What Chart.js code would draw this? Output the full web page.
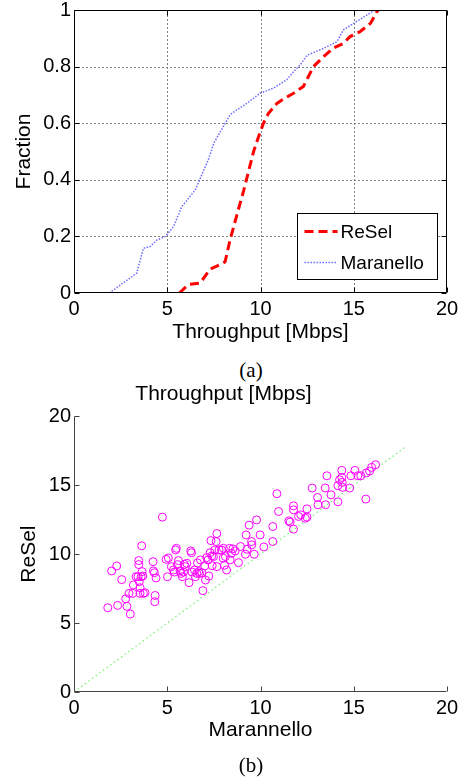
<!DOCTYPE html>
<html>
<head>
<meta charset="utf-8">
<script src="https://cdn.jsdelivr.net/npm/chart.js@4.4.1/dist/chart.umd.min.js"></script>
<style>
  html, body { margin:0; padding:0; background:#fff; width:465px; height:779px; overflow:hidden; position:relative; }
  .wrap { position:absolute; left:0; width:465px; }
  .cap { position:absolute; width:100px; text-align:center; font-family:'Liberation Serif','Times New Roman',serif; font-size:21px; line-height:24px; color:#000; }
</style>
</head>
<body>
<div class="wrap" style="top:-10px;height:355px"><canvas id="cdf" width="465" height="355"></canvas></div>
<div class="cap" style="left:201px;top:358px">(a)</div>
<div class="wrap" style="top:380px;height:399px"><canvas id="sc" width="465" height="399"></canvas></div>
<div class="cap" style="left:201px;top:753px">(b)</div>
<script>
// ---------- data: (a) CDF of throughput ----------
const reselX = [5.65, 6.13, 6.76, 7.3, 7.83, 8.1, 8.37, 8.73, 9.09, 9.36, 9.63, 9.9, 10.16, 10.43, 10.88, 11.3, 11.77, 12.3, 12.57, 12.84, 13.38, 13.9, 14.45, 14.8, 15.35, 15.9, 16.24, 16.33];
const reselY = [0, 0.03, 0.035, 0.084, 0.1, 0.11, 0.188, 0.275, 0.36, 0.43, 0.5, 0.553, 0.6, 0.635, 0.67, 0.688, 0.706, 0.73, 0.765, 0.8, 0.835, 0.865, 0.882, 0.906, 0.924, 0.953, 0.994, 1.0];
const maranelloX = [1.89, 3.36, 3.72, 4.08, 4.44, 4.88, 5.33, 5.78, 6.5, 6.77, 7.2, 7.5, 8.0, 8.37, 8.73, 9.27, 9.98, 10.7, 11.4, 11.77, 12.13, 12.5, 13.4, 14.1, 14.45, 15.0, 15.7, 16.15];
const maranelloY = [0, 0.07, 0.158, 0.164, 0.187, 0.199, 0.234, 0.305, 0.364, 0.405, 0.47, 0.53, 0.588, 0.63, 0.647, 0.67, 0.706, 0.724, 0.753, 0.782, 0.806, 0.84, 0.865, 0.888, 0.93, 0.953, 0.982, 1.0];
const cdfXTicks = [0, 5, 10, 15, 20];
const cdfYTicks = [0, 0.2, 0.4, 0.6, 0.8, 1];

// ---------- data: (b) scatter ReSel vs Marannello ----------
const scatterMarannello = [1.81,2.02,2.29,2.34,2.56,2.77,2.84,2.95,3.02,3.15,3.18,3.33,3.43,3.47,3.47,3.5,3.54,3.54,3.6,3.63,3.65,3.69,3.72,3.81,4.24,4.26,4.31,4.33,4.35,4.4,4.74,4.94,5.06,5.01,5.22,5.33,5.38,5.45,5.49,5.55,5.6,5.69,5.74,5.81,5.87,5.92,5.97,6.05,6.17,6.26,6.3,6.33,6.46,6.51,6.58,6.62,6.69,6.73,6.78,6.85,6.91,7.01,7.05,7.12,7.19,7.23,7.3,7.34,7.39,7.41,7.48,7.55,7.62,7.66,7.66,7.78,7.91,8.0,8.01,8.07,8.12,8.18,8.34,8.37,8.44,8.52,8.64,8.82,8.93,9.19,9.23,9.28,9.39,9.52,9.53,9.66,9.79,9.98,10.18,10.66,10.66,10.88,10.97,11.52,11.59,11.77,11.77,11.77,12.04,12.16,12.4,12.49,12.49,12.77,13.06,13.08,13.47,13.49,13.56,13.78,14.15,14.15,14.24,14.36,14.36,14.38,14.4,14.78,14.85,15.06,15.22,15.38,15.65,15.67,15.85,15.96,16.17];
const scatterResel = [6.11,8.78,9.14,6.28,8.15,6.76,6.21,7.15,5.65,7.15,7.76,8.36,8.36,9.53,9.24,8.0,7.15,7.56,8.36,10.6,8.73,8.41,7.15,7.2,9.45,8.78,8.65,6.55,7.0,8.27,12.68,9.62,9.72,8.36,9.09,8.85,8.7,10.3,10.42,9.24,9.53,8.78,8.6,8.36,8.7,9.26,9.09,9.33,7.93,10.23,10.1,8.7,8.85,8.36,8.6,9.36,8.73,8.6,9.58,8.65,7.35,9.14,8.12,9.75,9.58,8.41,10.1,10.98,9.87,9.16,9.82,10.3,10.91,11.49,9.09,10.3,10.3,9.7,10.42,9.19,9.82,8.85,10.42,9.58,10.06,10.38,10.23,9.38,10.55,9.99,11.39,10.35,12.1,10.91,10.67,9.99,12.48,11.39,10.52,12.0,10.91,14.38,13.09,12.41,12.32,11.81,13.5,13.21,12.73,12.85,12.6,12.68,13.28,14.79,14.11,13.58,14.79,13.58,15.68,14.3,13.79,14.96,15.39,16.07,15.56,15.2,14.84,14.79,15.68,16.07,15.68,15.68,13.99,15.88,16.02,16.29,16.48];
const diagX = [0, 17.8];
const diagY = [0, 17.8];
const scXTicks = [0, 5, 10, 15, 20];
const scYTicks = [0, 5, 10, 15, 20];

// ---------- helpers ----------
const FONT = "'Liberation Sans', Arial, Helvetica, sans-serif";
Chart.defaults.font.family = FONT;
Chart.defaults.color = '#000';
const zip = (xs, ys) => xs.map((x, i) => ({x, y: ys[i]}));
const fixTicks = arr => (scale) => { scale.ticks = arr.map(v => ({value: v})); };
const fmt = v => String(v);

// dotted grid + frame with inward tick marks, placed through the chart's own scales
function makeFrame(xTicks, yTicks, color, box, gridColor) {
  return {
    id: 'frame',
    beforeDatasetsDraw(chart) {
      if (!gridColor) return;
      const {ctx, chartArea: a, scales} = chart;
      ctx.save();
      ctx.strokeStyle = gridColor;
      ctx.lineWidth = 1;
      ctx.setLineDash([2, 2]);
      ctx.beginPath();
      xTicks.forEach(v => {
        const px = Math.round(scales.x.getPixelForValue(v)) + 0.5;
        if (px > a.left + 2 && px < a.right - 2) { ctx.moveTo(px, a.bottom); ctx.lineTo(px, a.top); }
      });
      yTicks.forEach(v => {
        const py = Math.round(scales.y.getPixelForValue(v)) + 0.5;
        if (py > a.top + 2 && py < a.bottom - 2) { ctx.moveTo(a.left, py); ctx.lineTo(a.right, py); }
      });
      ctx.stroke();
      ctx.restore();
    },
    afterDraw(chart) {
      const {ctx, chartArea: a, scales} = chart;
      const L = 5;
      ctx.save();
      ctx.strokeStyle = color;
      ctx.lineWidth = 1;
      ctx.setLineDash([]);
      ctx.beginPath();
      const l = Math.round(a.left) + 0.5, r = Math.round(a.right) - 0.5;
      const t = Math.round(a.top) + 0.5, b = Math.round(a.bottom) - 0.5;
      ctx.moveTo(l, t); ctx.lineTo(l, b); ctx.lineTo(r, b);
      if (box) { ctx.lineTo(r, t); ctx.lineTo(l, t); }
      xTicks.forEach(v => {
        const px = Math.round(scales.x.getPixelForValue(v)) + 0.5;
        ctx.moveTo(px, b); ctx.lineTo(px, b - L);
        if (box) { ctx.moveTo(px, t); ctx.lineTo(px, t + L); }
      });
      yTicks.forEach(v => {
        const py = Math.round(scales.y.getPixelForValue(v)) + 0.5;
        ctx.moveTo(l, py); ctx.lineTo(l + L, py);
        if (box) { ctx.moveTo(r, py); ctx.lineTo(r - L, py); }
      });
      ctx.stroke();
      ctx.restore();
    }
  };
}

const boxLegendPlugin = {
  id: 'boxLegend',
  afterDraw(chart) {
    const {ctx, chartArea: a} = chart;
    const w = 140, h = 66;
    const x0 = Math.round(a.right - 10 - w) + 0.5, y0 = Math.round(a.bottom - 14 - h) + 0.5;
    ctx.save();
    ctx.fillStyle = '#fff';
    ctx.fillRect(x0, y0, w, h);
    ctx.strokeStyle = '#000'; ctx.lineWidth = 1; ctx.setLineDash([]);
    ctx.strokeRect(x0, y0, w, h);
    ctx.font = '19px ' + FONT;
    ctx.textBaseline = 'middle';
    ctx.fillStyle = '#000';
    chart.data.datasets.forEach((ds, i) => {
      const cy = y0 + 18 + i * 31;
      ctx.save();
      ctx.strokeStyle = ds.borderColor;
      ctx.lineWidth = ds.borderWidth;
      ctx.setLineDash(ds.borderDash || []);
      ctx.beginPath(); ctx.moveTo(x0 + 7, cy); ctx.lineTo(x0 + 40, cy); ctx.stroke();
      ctx.restore();
      ctx.fillText(ds.label, x0 + 43, cy + 1);
    });
    ctx.restore();
  }
};

// ---------- (a) CDF ----------
new Chart(document.getElementById('cdf'), {
  type: 'line',
  data: {
    datasets: [
      { label: 'ReSel', data: zip(reselX, reselY), borderColor: '#ff0000', borderWidth: 3, borderDash: [9, 5], pointRadius: 0, fill: false, tension: 0 },
      { label: 'Maranello', data: zip(maranelloX, maranelloY), borderColor: 'rgba(70,70,255,0.8)', borderWidth: 1.5, borderDash: [1.5, 1.5], pointRadius: 0, fill: false, tension: 0 }
    ]
  },
  options: {
    responsive: false, animation: false, events: [],
    layout: { padding: { top: 20, right: 18, left: 0, bottom: 0 } },
    plugins: { legend: { display: false }, tooltip: { enabled: false } },
    scales: {
      x: {
        type: 'linear', min: 0, max: 20,
        afterBuildTicks: fixTicks(cdfXTicks),
        afterFit: s => { s.height = 52; },
        grid: { display: false, drawTicks: false },
        border: { display: false },
        ticks: { font: { size: 20 }, padding: 4, maxRotation: 0, callback: fmt },
        title: { display: true, text: 'Throughput [Mbps]', font: { size: 21, lineHeight: 1.2 }, padding: { top: 0, bottom: 0 } }
      },
      y: {
        type: 'linear', min: 0, max: 1,
        afterBuildTicks: fixTicks(cdfYTicks),
        afterFit: s => { s.width = 74; },
        grid: { display: false, drawTicks: false },
        border: { display: false },
        ticks: { font: { size: 20 }, padding: 3, callback: fmt },
        title: { display: true, text: 'Fraction', font: { size: 21, lineHeight: 1.2 }, padding: { top: 12, bottom: 0 } }
      }
    }
  },
  plugins: [makeFrame(cdfXTicks, cdfYTicks, '#000', true, '#808080'), boxLegendPlugin]
});

// ---------- (b) scatter ----------
new Chart(document.getElementById('sc'), {
  type: 'scatter',
  data: {
    datasets: [
      { label: 'y = x', type: 'line', data: zip(diagX, diagY), borderColor: 'rgba(0,230,0,0.55)', borderWidth: 1.2, borderDash: [1.5, 3], pointRadius: 0, fill: false, order: 2 },
      { label: 'ReSel vs Marannello', data: zip(scatterMarannello, scatterResel), pointStyle: 'circle', pointRadius: 4, borderColor: '#ff00ff', backgroundColor: 'rgba(0,0,0,0)', borderWidth: 1, order: 1 }
    ]
  },
  options: {
    responsive: false, animation: false, events: [],
    layout: { padding: { top: 0, right: 18, left: 0, bottom: 0 } },
    plugins: {
      legend: { display: false }, tooltip: { enabled: false },
      title: { display: true, text: 'Throughput [Mbps]', color: '#000', font: { size: 21, weight: 'normal', lineHeight: 1.2 }, padding: { top: 2, bottom: 9 } }
    },
    scales: {
      x: {
        type: 'linear', min: 0, max: 20,
        afterBuildTicks: fixTicks(scXTicks),
        afterFit: s => { s.height = 87; },
        grid: { display: false, drawTicks: false },
        border: { display: false },
        ticks: { font: { size: 20 }, padding: 4, maxRotation: 0, callback: fmt },
        title: { display: true, text: 'Marannello', font: { size: 21, lineHeight: 1.2 }, padding: { top: 0, bottom: 36 } }
      },
      y: {
        type: 'linear', min: 0, max: 20,
        afterBuildTicks: fixTicks(scYTicks),
        afterFit: s => { s.width = 74; },
        grid: { display: false, drawTicks: false },
        border: { display: false },
        ticks: { font: { size: 20 }, padding: 3, callback: fmt },
        title: { display: true, text: 'ReSel', font: { size: 21, lineHeight: 1.2 }, padding: { top: 17, bottom: 0 } }
      }
    }
  },
  plugins: [makeFrame(scXTicks, scYTicks, '#444', false, null)]
});
</script>
</body>
</html>
